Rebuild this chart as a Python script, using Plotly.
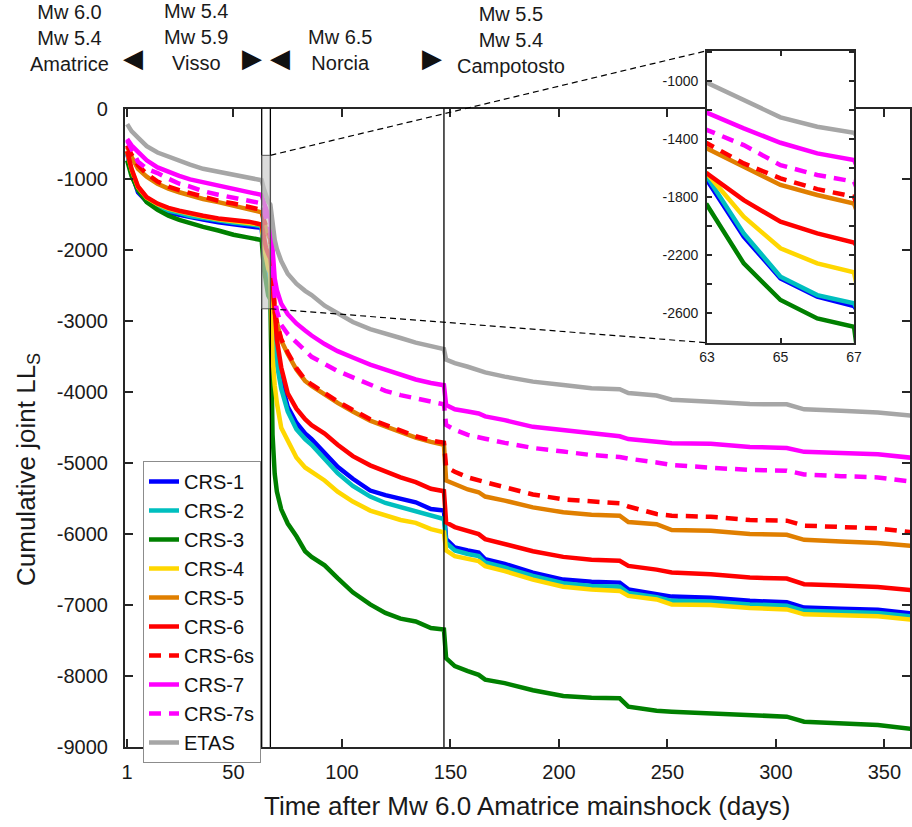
import plotly.graph_objects as go

# ---------------- data ----------------
days = [1, 3, 6, 10, 15, 20, 25, 30, 36, 43, 50, 57,
        63, 64, 65, 66, 67,
        68, 69, 70, 72, 75, 79, 83, 86, 92, 98,
        105, 113, 120, 127, 134, 141, 147,
        148, 152, 158, 163, 166, 175, 188, 202, 215, 228, 232, 245, 252,
        270, 288, 305, 313, 330, 347, 363]

crs1 = [-630, -900, -1180, -1310, -1400, -1460, -1500, -1535, -1565, -1605, -1630, -1655,
        -1682, -2072, -2359, -2485, -2550,
        -2900, -3200, -3450, -3850, -4204, -4430, -4580, -4660, -4860, -5050,
        -5219, -5385, -5450, -5500, -5551, -5645, -5668,
        -6069, -6188, -6230, -6259, -6353, -6420, -6542, -6640, -6670, -6683, -6778, -6840, -6880,
        -6896, -6940, -6960, -7035, -7050, -7065, -7120]
crs2 = [-620, -880, -1150, -1290, -1380, -1440, -1475, -1515, -1545, -1585, -1610, -1630,
        -1659, -2049, -2348, -2474, -2531,
        -3000, -3350, -3600, -3950, -4270, -4520, -4660, -4740, -4940, -5140,
        -5320, -5470, -5560, -5620, -5680, -5750, -5786,
        -6120, -6230, -6280, -6310, -6400, -6470, -6590, -6690, -6730, -6740, -6830, -6890, -6940,
        -6950, -6990, -7010, -7080, -7100, -7110, -7160]
crs3 = [-730, -950, -1150, -1320, -1430, -1510, -1570, -1620, -1668, -1720, -1780, -1820,
        -1854, -2256, -2508, -2635, -2692,
        -4600, -5150, -5400, -5650, -5850, -6030, -6240, -6320, -6440, -6620,
        -6820, -6990, -7110, -7190, -7230, -7322, -7345,
        -7747, -7860, -7930, -7983, -8050, -8100, -8200, -8280, -8305, -8314, -8432, -8490, -8502,
        -8526, -8560, -8573, -8644, -8670, -8691, -8748]
crs4 = [-610, -860, -1110, -1260, -1350, -1410, -1450, -1490, -1522, -1560, -1585, -1605,
        -1636, -1934, -2152, -2256, -2318,
        -3500, -3900, -4150, -4500, -4690, -4920, -5060, -5120, -5243, -5400,
        -5540, -5668, -5740, -5800, -5840, -5928, -5975,
        -6230, -6310, -6350, -6380, -6450, -6520, -6640, -6740, -6780, -6800, -6870, -6920, -6990,
        -7000, -7040, -7061, -7130, -7145, -7156, -7205]
crs5 = [-540, -680, -850, -960, -1060, -1130, -1181, -1225, -1275, -1320, -1370, -1410,
        -1464, -1590, -1716, -1785, -1843,
        -2550, -2880, -3030, -3270, -3460, -3680, -3840, -3910, -4030, -4150,
        -4270, -4400, -4480, -4560, -4640, -4700, -4740,
        -5243, -5300, -5370, -5409, -5470, -5527, -5622, -5692, -5725, -5739, -5830, -5860, -5942,
        -5952, -5999, -6008, -6080, -6103, -6126, -6165]
crs6 = [-600, -850, -1100, -1250, -1340, -1400, -1441, -1480, -1512, -1550, -1575, -1595,
        -1636, -1820, -1969, -2049, -2113,
        -2400, -2950, -3259, -3650, -4015, -4230, -4380, -4464, -4582, -4740,
        -4900, -5030, -5120, -5200, -5267, -5360, -5394,
        -5834, -5900, -5950, -5999, -6070, -6140, -6240, -6320, -6360, -6376, -6447, -6500, -6540,
        -6565, -6612, -6626, -6705, -6725, -6745, -6792]
crs6s = [-520, -650, -800, -920, -1030, -1100, -1150, -1195, -1250, -1300, -1340, -1390,
         -1429, -1567, -1670, -1744, -1797,
         -2500, -2850, -3020, -3250, -3440, -3660, -3820, -3890, -4010, -4130,
         -4250, -4380, -4460, -4540, -4620, -4680, -4710,
         -5054, -5120, -5200, -5250, -5267, -5338, -5440, -5510, -5541, -5565, -5610, -5716, -5740,
         -5755, -5800, -5810, -5880, -5904, -5918, -5975]
crs7 = [-430, -520, -610, -730, -830, -895, -950, -1000, -1040, -1085, -1130, -1165,
        -1218, -1326, -1425, -1498, -1544,
        -2100, -2400, -2560, -2750, -2900, -3030, -3130, -3200, -3320, -3420,
        -3510, -3610, -3680, -3755, -3820, -3870, -3900,
        -4180, -4240, -4270, -4298, -4340, -4393, -4487, -4534, -4582, -4620, -4660, -4690, -4720,
        -4725, -4770, -4785, -4840, -4855, -4875, -4925]
crs7s = [-450, -560, -750, -850, -910, -990, -1060, -1100, -1165, -1215, -1260, -1300,
         -1337, -1441, -1579, -1647, -1693,
         -2300, -2650, -2850, -3050, -3180, -3300, -3420, -3500, -3600, -3700,
         -3790, -3890, -3980, -4040, -4090, -4140, -4170,
         -4460, -4530, -4600, -4640, -4655, -4713, -4785, -4835, -4885, -4912, -4935, -4990, -5025,
         -5063, -5095, -5105, -5158, -5182, -5200, -5260]
etas = [-220, -320, -410, -530, -620, -680, -740, -790, -850, -895, -940, -975,
        -1011, -1131, -1250, -1315, -1356,
        -1650, -1850, -1980, -2150, -2330, -2470, -2570, -2630, -2780, -2890,
        -3010, -3110, -3180, -3235, -3300, -3350, -3390,
        -3540, -3590, -3640, -3684, -3720, -3779, -3850, -3897, -3944, -3958, -4010, -4045, -4105,
        -4133, -4166, -4170, -4240, -4260, -4285, -4330]

series_names = ["CRS-1", "CRS-2", "CRS-3", "CRS-4", "CRS-5", "CRS-6", "CRS-6s", "CRS-7", "CRS-7s", "ETAS"]
series_values = [crs1, crs2, crs3, crs4, crs5, crs6, crs6s, crs7, crs7s, etas]
series_colors = ["#0000FF", "#00BFBF", "#008000", "#FFD700", "#E07F00", "#FF0000", "#FF0000",
                 "#FF00FF", "#FF00FF", "#A6A6A6"]
series_dash = ["solid"] * 6 + ["12px,8px", "solid", "12px,8px", "solid"]

event_days = [63, 67, 147]
x_ticks = [1, 50, 100, 150, 200, 250, 300, 350]
y_ticks = list(range(0, -9001, -1000))
inset_x_ticks = [63, 65, 67]
inset_y_ticks = [-1000, -1400, -1800, -2200, -2600]

x_range = [0, 361.8]
y_range = [-9000, 0]
zoom_x = [63, 67]
zoom_y_main = [-2823, -660]
inset_y_range = [-2802, -791]

event_labels = [
    ("Mw 6.0<br>Mw 5.4<br>Amatrice", 69, 38),
    ("Mw 5.4<br>Mw 5.9<br>Visso", 196, 37),
    ("Mw 6.5<br>Norcia", 340, 50),
    ("Mw 5.5<br>Mw 5.4<br>Campotosto", 511, 40),
]
arrows = [("◀", 133, 58), ("▶", 252, 58), ("◀", 280, 58), ("▶", 432, 58)]

# ---------------- layout geometry ----------------
W, H = 912, 827
L, R, T, B = 125, 2, 40, 80
PW, PH = W - L - R, H - T - B


def px_x(p):
    return (p - L) / PW


def px_y(p):
    return (H - B - p) / PH


main_ydom = [0, px_y(108.5)]
inset_xdom = [px_x(707), px_x(854)]
inset_ydom = [px_y(342.7), px_y(50.7)]


def main_to_paper(xv, yv):
    xp = (xv - x_range[0]) / (x_range[1] - x_range[0])
    yp = main_ydom[0] + (yv - y_range[0]) / (y_range[1] - y_range[0]) * (main_ydom[1] - main_ydom[0])
    return xp, yp


FONT = "Liberation Sans, Arial, Helvetica, sans-serif"
AX = "#262626"
NBSP = "\u00a0"

fig = go.Figure()

for name, vals, col, dash in zip(series_names, series_values, series_colors, series_dash):
    fig.add_trace(go.Scatter(x=days, y=vals, mode="lines", name=name,
                             line=dict(color=col, width=4.5, dash=dash),
                             xaxis="x", yaxis="y"))
for name, vals, col, dash in zip(series_names, series_values, series_colors, series_dash):
    fig.add_trace(go.Scatter(x=days, y=vals, mode="lines", name=name, showlegend=False,
                             line=dict(color=col, width=4.5, dash=dash),
                             xaxis="x2", yaxis="y2"))

shapes = []
for d in event_days:
    shapes.append(dict(type="line", xref="x", yref="y domain", x0=d, x1=d, y0=0, y1=1,
                       line=dict(color="black", width=1.3), layer="above"))
shapes.append(dict(type="rect", xref="x", yref="y", x0=zoom_x[0], x1=zoom_x[1],
                   y0=zoom_y_main[0], y1=zoom_y_main[1],
                   fillcolor="rgba(200,200,200,0.65)", line=dict(color="#555555", width=1),
                   layer="above"))
p_top = main_to_paper(zoom_x[1], zoom_y_main[1])
p_bot = main_to_paper(zoom_x[1], zoom_y_main[0])
shapes.append(dict(type="line", xref="paper", yref="paper", x0=p_top[0], y0=p_top[1],
                   x1=inset_xdom[0], y1=inset_ydom[1], line=dict(color="black", width=1.2, dash="6px,4px")))
shapes.append(dict(type="line", xref="paper", yref="paper", x0=p_bot[0], y0=p_bot[1],
                   x1=inset_xdom[0], y1=inset_ydom[0], line=dict(color="black", width=1.2, dash="6px,4px")))

annotations = []
for txt, cx, cy in event_labels:
    annotations.append(dict(text=txt, x=px_x(cx), y=px_y(cy), xref="paper", yref="paper",
                            showarrow=False, xanchor="center", yanchor="middle", align="center",
                            font=dict(family=FONT, size=20, color="#1a1a1a")))
for txt, cx, cy in arrows:
    annotations.append(dict(text=txt, x=px_x(cx), y=px_y(cy), xref="paper", yref="paper",
                            showarrow=False, xanchor="center", yanchor="middle",
                            font=dict(family="DejaVu Sans", size=26, color="#111111")))
annotations.append(dict(text="Cumulative joint LL<sub>S</sub>", x=px_x(27), y=px_y(470),
                        xref="paper", yref="paper", showarrow=False, textangle=-90,
                        xanchor="center", yanchor="middle",
                        font=dict(family=FONT, size=26, color="#1a1a1a")))
annotations.append(dict(text="Time after Mw 6.0 Amatrice mainshock (days)", x=px_x(527), y=px_y(806),
                        xref="paper", yref="paper", showarrow=False,
                        xanchor="center", yanchor="middle",
                        font=dict(family=FONT, size=26, color="#1a1a1a")))

fig.update_layout(
    width=W, height=H,
    margin=dict(l=L, r=R, t=T, b=B, pad=0),
    paper_bgcolor="white", plot_bgcolor="white",
    font=dict(family=FONT, color="#1a1a1a"),
    showlegend=True,
    legend=dict(x=px_x(143), y=px_y(461), xanchor="left", yanchor="top",
                bgcolor="white", bordercolor="#8c8c8c", borderwidth=1,
                font=dict(family=FONT, size=20, color="#111111"),
                itemwidth=30, tracegroupgap=0),
    xaxis=dict(domain=[0, 1], range=x_range, tickvals=x_ticks, ticktext=[str(v) for v in x_ticks],
               ticks="inside", ticklen=8, tickwidth=2, tickcolor=AX,
               showline=True, linecolor=AX, linewidth=2, mirror="ticks",
               showgrid=False, zeroline=False, anchor="y", automargin=False,
               tickfont=dict(family=FONT, size=20, color="#1a1a1a"), ticklabelstandoff=6),
    yaxis=dict(domain=main_ydom, range=y_range, tickvals=y_ticks,
               ticktext=[f"{v}{NBSP}{NBSP}" for v in y_ticks],
               ticks="inside", ticklen=8, tickwidth=2, tickcolor=AX,
               showline=True, linecolor=AX, linewidth=2, mirror="ticks",
               showgrid=False, zeroline=False, anchor="x", automargin=False,
               tickfont=dict(family=FONT, size=20, color="#1a1a1a")),
    xaxis2=dict(domain=inset_xdom, range=zoom_x, tickvals=inset_x_ticks,
                ticks="inside", ticklen=5, tickwidth=2, tickcolor=AX,
                showline=True, linecolor=AX, linewidth=2, mirror="ticks",
                showgrid=False, zeroline=False, anchor="y2", automargin=False,
                tickfont=dict(family=FONT, size=14, color="#1a1a1a")),
    yaxis2=dict(domain=inset_ydom, range=inset_y_range, tickvals=inset_y_ticks,
                ticktext=[f"{v}{NBSP}" for v in inset_y_ticks],
                ticks="inside", ticklen=5, tickwidth=2, tickcolor=AX,
                minor=dict(dtick=200, tick0=-1000, ticks="inside", ticklen=5, tickwidth=2, tickcolor=AX),
                showline=True, linecolor=AX, linewidth=2, mirror="ticks",
                showgrid=False, zeroline=False, anchor="x2", automargin=False,
                tickfont=dict(family=FONT, size=14, color="#1a1a1a")),
    shapes=shapes,
    annotations=annotations,
)

fig.write_html("out.html")
